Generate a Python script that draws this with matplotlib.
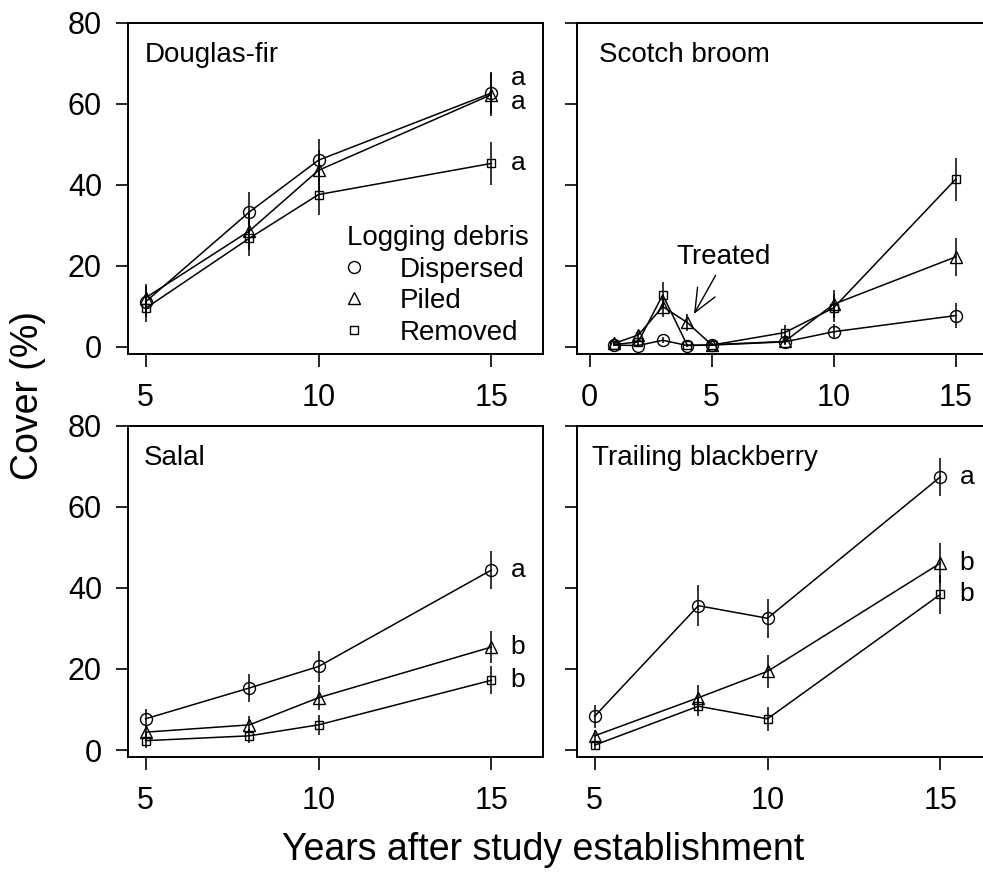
import matplotlib
matplotlib.use("Agg")
import matplotlib.pyplot as plt
from matplotlib.lines import Line2D

plt.rcParams['font.family'] = ['Liberation Sans', 'DejaVu Sans']

# ---------------- data ----------------
treatments = ["Dispersed", "Piled", "Removed"]
markers = {"Dispersed": "o", "Piled": "^", "Removed": "s"}

years_main = [5, 8, 10, 15]
years_broom = [1, 2, 3, 4, 5, 8, 10, 15]

df_dispersed = [11.1, 33.3, 46.1, 62.7]
df_piled = [12.1, 28.6, 43.6, 62.3]
df_removed = [9.5, 26.8, 37.6, 45.3]
df_dispersed_se = [3.8, 5.0, 5.3, 5.2]
df_piled_se = [3.5, 4.8, 5.0, 5.3]
df_removed_se = [3.3, 4.5, 5.1, 5.3]

sb_dispersed = [0.4, 0.3, 1.6, 0.3, 0.4, 1.2, 3.7, 7.7]
sb_piled = [0.8, 2.9, 9.9, 6.0, 0.5, 1.3, 10.5, 22.2]
sb_removed = [0.5, 1.2, 12.8, 0.4, 0.4, 3.5, 9.6, 41.4]
sb_dispersed_se = [0.3, 0.3, 0.8, 0.3, 0.3, 0.5, 1.8, 3.1]
sb_piled_se = [0.5, 1.0, 2.5, 2.2, 0.3, 0.8, 3.5, 4.7]
sb_removed_se = [0.3, 0.8, 3.3, 0.3, 0.3, 1.9, 3.5, 5.3]

sa_dispersed = [7.7, 15.3, 20.6, 44.4]
sa_piled = [4.4, 6.2, 12.9, 25.4]
sa_removed = [2.3, 3.5, 6.2, 17.2]
sa_dispersed_se = [2.5, 3.4, 3.9, 4.7]
sa_piled_se = [1.5, 2.1, 3.1, 4.0]
sa_removed_se = [1.8, 1.8, 2.4, 3.5]

tb_dispersed = [8.3, 35.6, 32.5, 67.4]
tb_piled = [3.5, 12.9, 19.4, 46.1]
tb_removed = [1.2, 10.8, 7.7, 38.4]
tb_dispersed_se = [2.9, 5.0, 4.8, 4.7]
tb_piled_se = [1.5, 3.1, 4.0, 5.0]
tb_removed_se = [1.0, 2.3, 2.9, 4.8]

panel_titles = ["Douglas-fir", "Scotch broom", "Salal", "Trailing blackberry"]
letters_df = ["a", "a", "a"]
letters_df_y = [66.3, 60.6, 45.3]
letters_sa = ["a", "b", "b"]
letters_tb = ["a", "b", "b"]

y_ticks = [0, 20, 40, 60, 80]
x_ticks_main = [5, 10, 15]
x_ticks_broom = [0, 5, 10, 15]

# ---------------- figure ----------------
W, H = 983, 873
fig = plt.figure(figsize=(W / 100, H / 100), dpi=100)

def px_axes(left, top, right, bottom):
    return fig.add_axes([left / W, 1 - bottom / H, (right - left) / W, (bottom - top) / H])

ax_df = px_axes(128.3, 23.0, 543.3, 354.0)
ax_sb = px_axes(577.3, 23.0, 992.3, 354.0)
ax_sa = px_axes(128.3, 425.7, 543.3, 757.3)
ax_tb = px_axes(577.3, 425.7, 992.3, 757.3)

LW = 1.1
BOX_LW = 1.4
FS_TICK = 22
FS_TEXT = 20
FS_LETTER = 19
MS = {"o": 8.6, "^": 8.4, "s": 5.6}


def style(ax, xlim, xticks, ylabels):
    ax.set_xlim(*xlim)
    ax.set_ylim(-1.8, 80)
    ax.set_xticks(xticks)
    ax.set_yticks(y_ticks)
    for s in ax.spines.values():
        s.set_linewidth(BOX_LW)
    ax.tick_params(axis='both', direction='out', length=9, width=1.2,
                   labelsize=FS_TICK)
    ax.tick_params(axis='x', pad=12)
    ax.tick_params(axis='y', pad=10)
    if not ylabels:
        ax.set_yticklabels([])


def draw_series(ax, x, series, errs):
    for name, y, e in zip(treatments, series, errs):
        ax.errorbar(x, y, yerr=e, fmt='none', ecolor='black', elinewidth=1.1,
                    capsize=0, zorder=2)
        ax.plot(x, y, color='black', lw=LW, marker=markers[name],
                ms=MS[markers[name]], mfc='none', mec='black', mew=1.0, zorder=3)


draw_series(ax_df, years_main, [df_dispersed, df_piled, df_removed],
            [df_dispersed_se, df_piled_se, df_removed_se])
draw_series(ax_sb, years_broom, [sb_dispersed, sb_piled, sb_removed],
            [sb_dispersed_se, sb_piled_se, sb_removed_se])
draw_series(ax_sa, years_main, [sa_dispersed, sa_piled, sa_removed],
            [sa_dispersed_se, sa_piled_se, sa_removed_se])
draw_series(ax_tb, years_main, [tb_dispersed, tb_piled, tb_removed],
            [tb_dispersed_se, tb_piled_se, tb_removed_se])

style(ax_df, (4.5, 16.5), x_ticks_main, True)
style(ax_sb, (-0.5, 16.5), x_ticks_broom, False)
style(ax_sa, (4.5, 16.5), x_ticks_main, True)
style(ax_tb, (4.5, 16.5), x_ticks_main, False)

# panel titles
for ax, title, xf in zip([ax_df, ax_sb, ax_sa, ax_tb], panel_titles,
                         [0.040, 0.053, 0.038, 0.036]):
    ax.text(xf, 0.882, title, transform=ax.transAxes, fontsize=FS_TEXT,
            ha='left', va='baseline')

# significance letters
LX = 15.55
for lab, yv in zip(letters_df, letters_df_y):
    ax_df.text(LX, yv, lab, fontsize=FS_LETTER, ha='left', va='center')
for lab, yv in zip(letters_sa, [sa_dispersed[-1], sa_piled[-1], sa_removed[-1]]):
    ax_sa.text(LX, yv, lab, fontsize=FS_LETTER, ha='left', va='center')
for lab, yv in zip(letters_tb, [tb_dispersed[-1], tb_piled[-1], tb_removed[-1]]):
    ax_tb.text(LX, yv, lab, fontsize=FS_LETTER, ha='left', va='center')

# legend
handles = [Line2D([], [], ls='none', marker=markers[t], mfc='none', mec='black',
                  mew=1.0, ms=MS[markers[t]]) for t in treatments]
leg = ax_df.legend(handles, treatments, title="Logging debris",
                   loc='lower left', bbox_to_anchor=((347.3 - 128.3) / 415, 0.025),
                   frameon=False, fontsize=FS_TEXT, title_fontsize=FS_TEXT,
                   handlelength=0.5, handletextpad=1.38, labelspacing=0.2,
                   borderpad=0.0, borderaxespad=0.0, alignment='left')

# Treated annotation
ax_sb.annotate("Treated", xy=(4.28, 8.1), xytext=(5.48, 20.4),
               fontsize=FS_TEXT, ha='center', va='baseline',
               arrowprops=dict(arrowstyle='->, head_length=0.7, head_width=0.3',
                               lw=1.0, color='black', mutation_scale=24,
                               shrinkA=2, shrinkB=0,
                               relpos=(0.45, 0.0)))

# axis labels
fig.text(28 / W, 1 - 396 / H, "Cover (%)", rotation=90, fontsize=27,
         ha='center', va='center')
fig.text(543 / W, 1 - 860 / H, "Years after study establishment", fontsize=27,
         ha='center', va='baseline')

fig.savefig("out.png", dpi=100)
